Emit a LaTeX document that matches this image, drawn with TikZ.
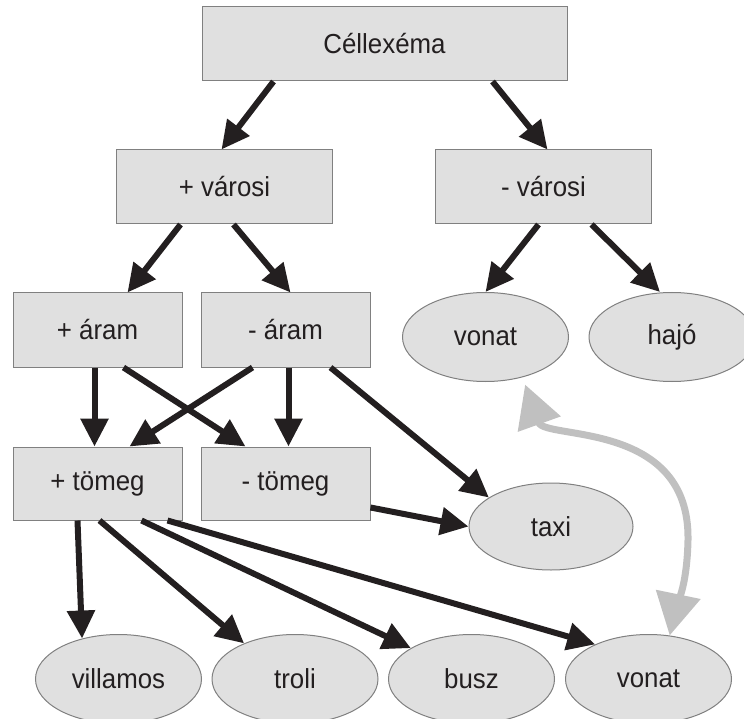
\documentclass[tikz,border=0pt]{standalone}
\usepackage{fontspec}
\setmainfont{Liberation Sans}[FakeStretch=0.94]
\usetikzlibrary{arrows.meta,shapes.geometric,positioning}
\definecolor{boxfill}{RGB}{224,224,224}
\definecolor{boxline}{RGB}{128,128,128}
\definecolor{ink}{RGB}{35,31,32}
\definecolor{lightarrow}{RGB}{192,192,192}

\begin{document}
\begin{tikzpicture}[x=1pt,y=-1pt,
	every node/.style={font=\fontsize{27.5}{32}\selectfont, text=ink, inner sep=0pt},
	feature/.style={draw=boxline, fill=boxfill, line width=1pt, minimum height=74pt},
	word/.style={ellipse, draw=boxline, fill=boxfill, line width=1pt, minimum width=166pt, minimum height=89pt},
	link/.style={draw=ink, line width=6pt, -{Triangle[length=28pt,width=27pt]}},
	swap/.style={draw=lightarrow, line width=7pt, {Triangle[length=42pt,width=44pt]}-{Triangle[length=42pt,width=44pt]}}]
		\clip (0,0) rectangle (744,719);
		\node[feature, minimum width=365pt] (cel) at (384.5,44) {Céllexéma};
		\node[feature, minimum width=216pt] (pv) at (224.5,187) {+ városi};
		\node[feature, minimum width=216pt] (mv) at (543.5,187) {- városi};
		\node[feature, minimum width=169pt] (pa) at (97.5,330) {+ áram};
		\node[feature, minimum width=169pt] (ma) at (285.5,330) {- áram};
		\node[feature, minimum width=169pt, minimum height=73pt] (pt) at (97.5,483.5) {+ tömeg};
		\node[feature, minimum width=169pt, minimum height=73pt] (mt) at (285.5,483.5) {- tömeg};
		
		\node[word] (vonat) at (485.5,337) {vonat};
		\node[word] (hajo) at (672,337) {hajó};
		\node[word, minimum width=164pt, minimum height=87pt] (taxi) at (551,526.5) {taxi};
		\node[word] (villamos) at (118.5,679) {villamos};
		\node[word] (troli) at (295,679) {troli};
		\node[word] (busz) at (471.5,679) {busz};
		\node[word] (vonat2) at (648.5,679) {vonat};
		
		\draw[link] ([xshift=-111pt]cel.south) -- ([xshift=-3pt]pv.north);
		\draw[link] ([xshift=108pt]cel.south) -- ([xshift=4pt]mv.north);
		\draw[link] ([xshift=-44pt]pv.south) -- ([xshift=30pt]pa.north);
		\draw[link] ([xshift=9pt]pv.south) -- ([xshift=5pt]ma.north);
		\draw[link] ([xshift=-5pt]mv.south) -- (vonat.north);
		\draw[link] ([xshift=48pt]mv.south) -- ([xshift=-12pt]hajo.north);
		\draw[link] ([xshift=-3pt]pa.south) -- ([xshift=-3pt]pt.north);
		\draw[link] ([xshift=26pt]pa.south) -- ([xshift=-40pt]mt.north);
		\draw[link] ([xshift=-33pt]ma.south) -- ([xshift=32pt]pt.north);
		\draw[link] ([xshift=3pt]ma.south) -- ([xshift=3pt]mt.north);
		\draw[link] ([xshift=45pt]ma.south) -- (taxi.155);
		\draw[link] ([yshift=-24pt]mt.east) -- (taxi.west);
		\draw[link] ([xshift=-20pt]pt.south) -- (villamos.132);
		\draw[link] ([xshift=2pt]pt.south) -- (troli.145);
		\draw[link] ([xshift=44pt]pt.south) -- (busz.153);
		\draw[link] ([xshift=70pt]pt.south) -- (vonat2.147);
		
		\draw[swap] ([yshift=-8pt]vonat.-45) .. controls (545,440) and (690,420) .. (688,540) .. controls (687,590) and (675,610) .. (vonat2.64);
	\end{tikzpicture}
\end{document}
